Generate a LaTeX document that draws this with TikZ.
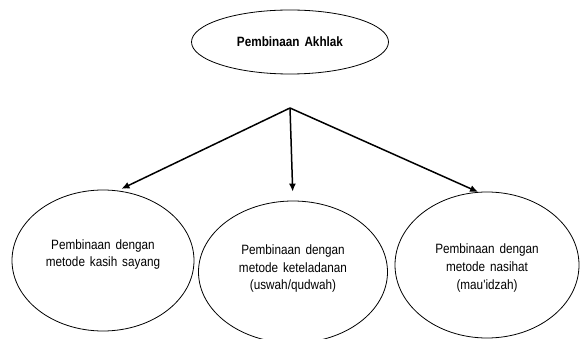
\documentclass[tikz,border=0pt]{standalone}
\usepackage{fontspec}
\setmainfont{Liberation Sans}
\newfontfamily\sempit[FakeStretch=0.87,WordSpace=1.5]{Liberation Sans}
\usetikzlibrary{shapes,positioning,arrows.meta}

% naikkan teks di dalam elips tanpa mengubah ukuran kotaknya
\newcommand{\naik}[2]{\raisebox{#1}[\height][\depth]{\begin{tabular}{@{}c@{}}#2\end{tabular}}}

\begin{document}
\begin{tikzpicture}[x=1pt,y=-1pt]
      \tikzstyle{oval}=[draw, ellipse, inner sep=0pt, line width=0.8pt, font=\sempit\fontsize{13.5}{17.7}\selectfont];
      \tikzstyle{arr}=[-{Latex[length=8pt,width=7pt]}, line width=1.5pt];

      \useasboundingbox (0,0) rectangle (581,339);

      \node (akhlak) at (290,42)[oval, minimum width=197pt, minimum height=64pt, font=\sempit\bfseries\fontsize{13.5}{16}\selectfont]{Pembinaan Akhlak};
      \coordinate (cabang) at (290,108);

      \node (kasih) at (103,260.5)[oval, minimum width=182pt, minimum height=141pt]{\naik{6pt}{Pembinaan dengan\\metode kasih sayang}};
      \node (teladan) at (293,272)[oval, minimum width=189pt, minimum height=142pt]{\naik{3.5pt}{Pembinaan dengan\\metode keteladanan\\(uswah/qudwah)}};
      \node (nasihat) at (487,265)[oval, minimum width=184pt, minimum height=146pt]{\naik{-3pt}{Pembinaan dengan\\metode nasihat\\(mau'idzah)}};

      \draw [arr, shorten >=4pt] (cabang) -- (kasih.78);
      \draw [arr, shorten >=9pt] (cabang) -- (teladan.north);
      \draw [arr] (cabang) -- (nasihat.97);

    \end{tikzpicture}
\end{document}
